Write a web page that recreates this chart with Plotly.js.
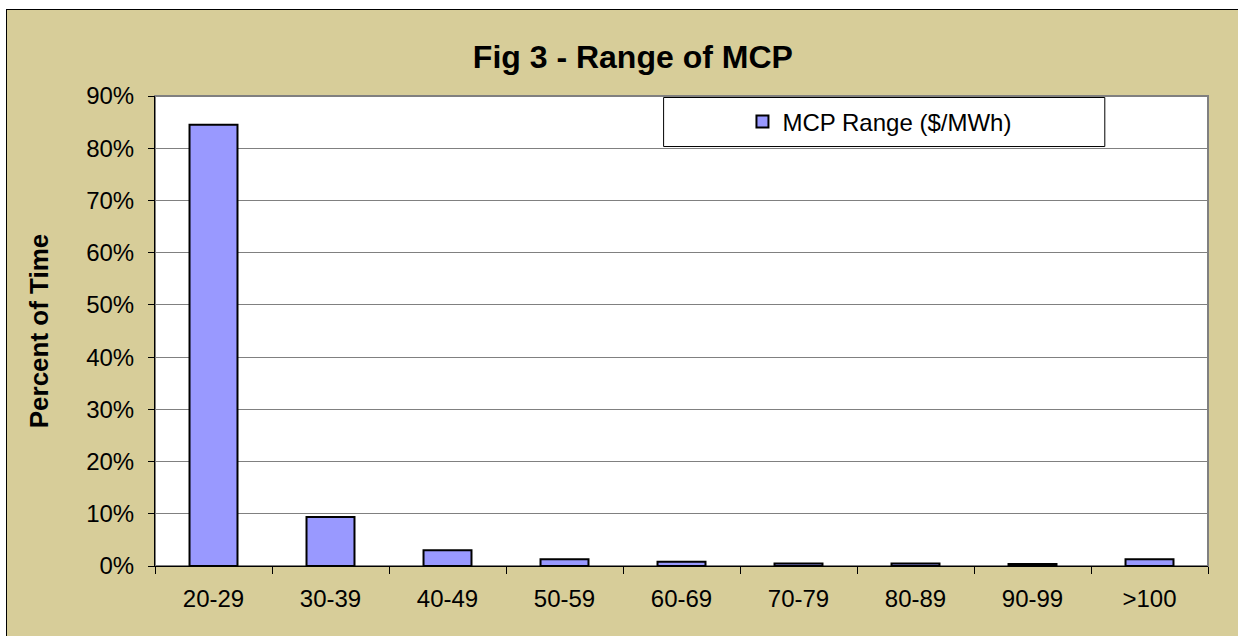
<!DOCTYPE html>
<html>
<head>
<meta charset="utf-8">
<script src="https://cdn.plot.ly/plotly-3.0.1.min.js"></script>
<style>
html, body { margin: 0; padding: 0; background: #ffffff; overflow: hidden; }
#chart { position: absolute; left: 6px; top: 9px; width: 1232px; height: 627px;
  border-left: 1px solid #000; border-top: 1px solid #000; }
</style>
</head>
<body>
<div id="chart"></div>
<script>
const categories = ["20-29","30-39","40-49","50-59","60-69","70-79","80-89","90-99",">100"];
const mcpRangePercent = [84.5, 9.4, 3.0, 1.3, 0.8, 0.5, 0.5, 0.4, 1.3];
const yTickValues = [0,10,20,30,40,50,60,70,80,90];
const seriesName = "MCP Range ($/MWh)";

const FONT = "Arial, 'Liberation Sans', sans-serif";

const trace = {
  type: "bar",
  x: categories,
  y: mcpRangePercent,
  name: seriesName,
  marker: { color: "#9999FF", line: { color: "#000000", width: 2 } },
  showlegend: true,
  hoverinfo: "x+y"
};

const layout = {
  width: 1232,
  height: 627,
  paper_bgcolor: "#D7CD99",
  plot_bgcolor: "#FFFFFF",
  margin: { l: 148, r: 31, t: 86, b: 71, pad: 0 },
  bargap: 0.59,
  title: {
    text: "<b>Fig 3 - Range of MCP</b>",
    font: { family: FONT, size: 32, color: "#000" },
    x: 0.508, xanchor: "center",
    y: 0.925, yanchor: "middle"
  },
  xaxis: {
    type: "category",
    tickson: "boundaries",
    ticks: "outside",
    ticklen: 7,
    tickcolor: "#000",
    tickwidth: 1,
    showline: true,
    linecolor: "#000",
    linewidth: 1,
    showgrid: false,
    tickfont: { family: FONT, size: 24, color: "#000" },
    ticklabelstandoff: 11,
    fixedrange: true
  },
  yaxis: {
    range: [0, 90],
    tickvals: yTickValues,
    ticktext: yTickValues.map(v => v + "%"),
    ticks: "outside",
    ticklen: 6,
    tickcolor: "#000",
    showline: true,
    linecolor: "#000",
    linewidth: 1,
    showgrid: true,
    gridcolor: "#808080",
    gridwidth: 1,
    zeroline: false,
    tickfont: { family: FONT, size: 24, color: "#000" },
    ticklabelstandoff: 9,
    title: {
      text: "<b>Percent of Time</b>",
      font: { family: FONT, size: 26, color: "#000" },
      standoff: 30
    },
    fixedrange: true
  },
  shapes: [
    { type: "rect", xref: "paper", yref: "paper", x0: 0, x1: 1, y0: 0, y1: 1,
      line: { color: "#808080", width: 2 }, layer: "below" },
    { type: "rect", xref: "paper", yref: "paper", x0: 0.483, x1: 0.902, y0: 0.8925, y1: 0.9968,
      line: { color: "#000", width: 1 }, fillcolor: "#FFFFFF", layer: "above" }
  ],
  legend: {
    x: 0.688, xanchor: "center",
    y: 0.945, yanchor: "middle",
    bgcolor: "rgba(0,0,0,0)",
    borderwidth: 0,
    font: { family: FONT, size: 24, color: "#000" },
    itemwidth: 30
  }
};

Plotly.newPlot("chart", [trace], layout, { displayModeBar: false, staticPlot: true });
</script>
</body>
</html>
